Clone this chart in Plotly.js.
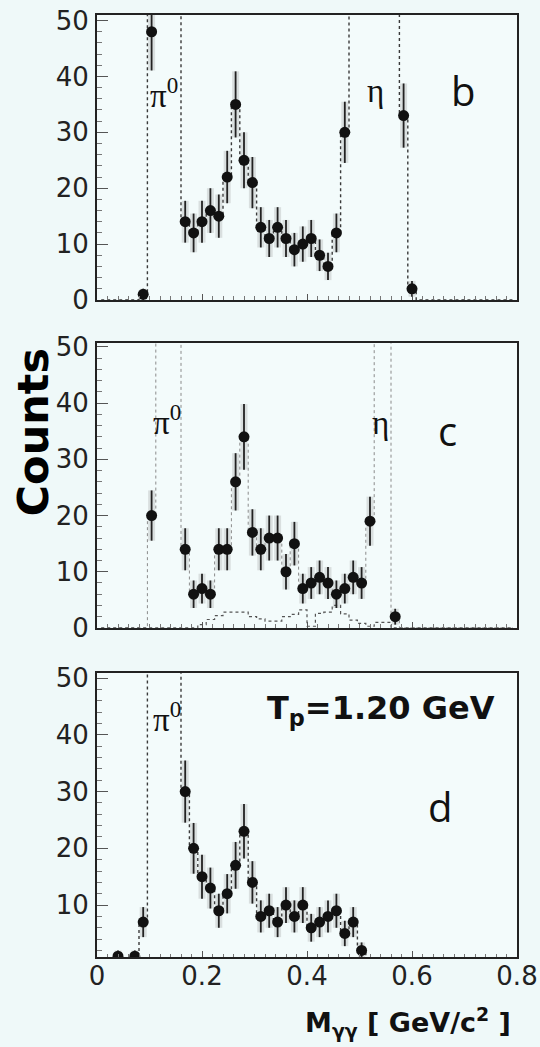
<!DOCTYPE html>
<html>
<head>
<meta charset="utf-8">
<script src="https://cdn.plot.ly/plotly-3.0.1.min.js"></script>
<style>
  html, body { margin: 0; padding: 0; background: #eff9f9; }
  #chart { width: 540px; height: 1047px; }
</style>
</head>
<body>
<div id="chart"></div>
<script>
// Two-photon invariant mass spectra, three selections (b, c, d), 16 MeV bins.

// Bin centres of the simulated histograms [GeV/c^2]
const binMass = [0.008,0.024,0.040,0.056,0.072,0.088,0.104,0.120,0.136,0.152,
                 0.168,0.184,0.200,0.216,0.232,0.248,0.264,0.280,0.296,0.312,
                 0.328,0.344,0.360,0.376,0.392,0.408,0.424,0.440,0.456,0.472,
                 0.488,0.504,0.520,0.536,0.552,0.568,0.584,0.600,0.616,0.632,
                 0.648,0.664,0.680,0.696,0.712,0.728,0.744,0.760,0.776,0.792];

// Panel b: measured counts
const massB   = [0.088,0.104,0.168,0.184,0.200,0.216,0.232,0.248,0.264,0.280,0.296,0.312,
                 0.328,0.344,0.360,0.376,0.392,0.408,0.424,0.440,0.456,0.472,0.584,0.600];
const countsB = [1,48,14,12,14,16,15,22,35,25,21,13,11,13,11,9,10,11,8,6,12,30,33,2];
// Panel b: simulated histogram (80 = bins far above the frame: pi0 and eta peaks)
const histB   = [0,0,0,0,0,1,80,80,80,80,
                 14,12,14,16,15,22,35,25,21,13,11,13,11,9,10,11,8,6,12,30,
                 80,80,80,80,80,80,33,2,0,0,0,0,0,0,0,0,0,0,0,0];

// Panel c: measured counts
const massC   = [0.104,0.168,0.184,0.200,0.216,0.232,0.248,0.264,0.280,0.296,0.312,0.328,
                 0.344,0.360,0.376,0.392,0.408,0.424,0.440,0.456,0.472,0.488,0.504,0.520,0.568];
const countsC = [20,14,6,7,6,14,14,26,34,17,14,16,16,10,15,7,8,9,8,6,7,9,8,19,2];
const histC   = [0,0,0,0,0,0,20,80,80,80,
                 14,6,7,6,14,14,26,34,17,14,16,16,10,15,7,8,9,8,6,7,9,8,19,
                 80,80,2,0,0,0,0,0,0,0,0,0,0,0,0,0,0];
// Panel c: background contribution
const bkgC    = [0,0,0,0,0,0,0,0,0,0,0,
                 0,0.6,1.5,2.2,2.8,2.8,2.8,2.0,1.6,1.2,1.2,2.0,2.4,3.2,0.3,2.6,2.8,4.0,2.5,1.4,0.8,0.3,1.0,1.0,
                 0,0,0,0,0,0,0,0,0,0,0,0,0,0,0];

// Panel d: measured counts
const massD   = [0.040,0.072,0.088,0.168,0.184,0.200,0.216,0.232,0.248,0.264,0.280,0.296,
                 0.312,0.328,0.344,0.360,0.376,0.392,0.408,0.424,0.440,0.456,0.472,0.488,0.504];
const countsD = [1,1,7,30,20,15,13,9,12,17,23,14,8,9,7,10,8,10,6,7,8,9,5,7,2];
const histD   = [0,0,1,0,1,7,80,80,80,80,
                 30,20,15,13,9,12,17,23,14,8,9,7,10,8,10,6,7,8,9,5,7,2,
                 0,0,0,0,0,0,0,0,0,0,0,0,0,0,0,0,0,0];

const panels = [
  {x: massB, y: countsB, hist: histB, xa: 'x',  ya: 'y',  histColor: '#3a3a3a', histWidth: 1.4},
  {x: massC, y: countsC, hist: histC, xa: 'x2', ya: 'y2', histColor: '#8a8a8a', histWidth: 1.0},
  {x: massD, y: countsD, hist: histD, xa: 'x3', ya: 'y3', histColor: '#3a3a3a', histWidth: 1.4}
];

const traces = [];
panels.forEach(p => {
  // simulated histogram, dotted steps
  traces.push({
    type: 'scatter', mode: 'lines', x: binMass, y: p.hist,
    xaxis: p.xa, yaxis: p.ya,
    line: {shape: 'hvh', dash: 'dot', color: p.histColor, width: p.histWidth}
  });
  // grey error band behind the data
  traces.push({
    type: 'scatter', mode: 'markers', x: p.x, y: p.y,
    xaxis: p.xa, yaxis: p.ya,
    marker: {size: 1, opacity: 0},
    error_y: {type: 'sqrt', visible: true, thickness: 7, width: 0, color: 'rgba(150,150,150,0.28)'}
  });
});
// background histogram in panel c
traces.push({
  type: 'scatter', mode: 'lines', x: binMass, y: bkgC, xaxis: 'x2', yaxis: 'y2',
  line: {shape: 'hvh', dash: 'dot', color: '#555', width: 1.2}
});
panels.forEach(p => {
  traces.push({
    type: 'scatter', mode: 'markers', x: p.x, y: p.y,
    xaxis: p.xa, yaxis: p.ya,
    marker: {symbol: 'circle', size: 11, color: '#111'},
    error_y: {type: 'sqrt', visible: true, thickness: 1.8, width: 0, color: '#222'}
  });
});

const tickFont = {family: 'DejaVu Sans', size: 26, color: '#222'};

function xAxis(anchor, labels) {
  return {
    anchor: anchor, domain: [0, 1], range: [0, 0.8],
    tick0: 0, dtick: 0.2,
    showticklabels: labels, tickfont: tickFont, ticklabelstandoff: -5,
    ticks: 'inside', ticklen: 6, tickwidth: 1, tickcolor: '#555',
    minor: {dtick: 0.02, ticks: 'inside', ticklen: 3.5, tickcolor: '#777', tickwidth: 1},
    showline: true, mirror: true, linecolor: '#222', linewidth: 2,
    showgrid: false, zeroline: false
  };
}
function yAxis(anchor, domain, range) {
  return {
    anchor: anchor, domain: domain, range: range,
    tick0: 0, dtick: 10, tickfont: tickFont,
    ticks: 'inside', ticklen: 11, tickwidth: 1, tickcolor: '#555',
    minor: {dtick: 2, ticks: 'inside', ticklen: 5, tickcolor: '#777', tickwidth: 1},
    showline: true, mirror: true, linecolor: '#222', linewidth: 2,
    showgrid: false, zeroline: false, ticklabelstandoff: 1
  };
}

const serif = {family: 'Liberation Serif', size: 33, color: '#111'};
const letter = {family: 'Open Sans', size: 40, color: '#111'};

const layout = {
  width: 540, height: 1047,
  margin: {l: 97, r: 23, t: 15, b: 90},
  paper_bgcolor: '#eff9f9', plot_bgcolor: '#f3fbfb',
  showlegend: false, hovermode: false,
  xaxis:  xAxis('y', false),
  xaxis2: xAxis('y2', false),
  xaxis3: xAxis('y3', true),
  yaxis:  yAxis('x',  [0.6975, 1.0], [0, 51]),
  yaxis2: yAxis('x2', [0.3493, 0.6518], [0, 50.7]),
  yaxis3: yAxis('x3', [0, 0.3015], [0.85, 50.9]),
  annotations: [
    {xref: 'x', yref: 'y', x: 0.127, y: 37.1, text: 'π<sup>0</sup>', showarrow: false, font: serif},
    {xref: 'x', yref: 'y', x: 0.53, y: 37.4, text: 'η', showarrow: false, font: serif},
    {xref: 'x', yref: 'y', x: 0.698, y: 37.4, text: 'b', showarrow: false, font: letter},
    {xref: 'x2', yref: 'y2', x: 0.134, y: 37.0, text: 'π<sup>0</sup>', showarrow: false, font: serif},
    {xref: 'x2', yref: 'y2', x: 0.540, y: 36.5, text: 'η', showarrow: false, font: serif},
    {xref: 'x2', yref: 'y2', x: 0.667, y: 35.2, text: 'c', showarrow: false, font: letter},
    {xref: 'x3', yref: 'y3', x: 0.134, y: 43.2, text: 'π<sup>0</sup>', showarrow: false, font: serif},
    {xref: 'x3', yref: 'y3', x: 0.540, y: 44.4, text: '<b>T<sub>p</sub>=1.20 GeV</b>', showarrow: false,
     font: {family: 'DejaVu Sans', size: 32, color: '#111'}},
    {xref: 'x3', yref: 'y3', x: 0.654, y: 27.3, text: 'd', showarrow: false, font: letter},
    {xref: 'paper', yref: 'paper', x: -0.152, y: 0.557, xanchor: 'center', yanchor: 'middle',
     text: '<b>Counts</b>', textangle: -90,
     showarrow: false, font: {family: 'DejaVu Sans', size: 43, color: '#000'}},
    {xref: 'paper', yref: 'paper', x: 0.99, y: -0.070, xanchor: 'right', yanchor: 'middle',
     text: '<b>M<sub>γγ</sub> [ GeV/c<sup>2</sup> ]</b>', showarrow: false,
     font: {family: 'DejaVu Sans', size: 27, color: '#111'}}
  ]
};

Plotly.newPlot('chart', traces, layout, {staticPlot: true, displayModeBar: false});
</script>
</body>
</html>
